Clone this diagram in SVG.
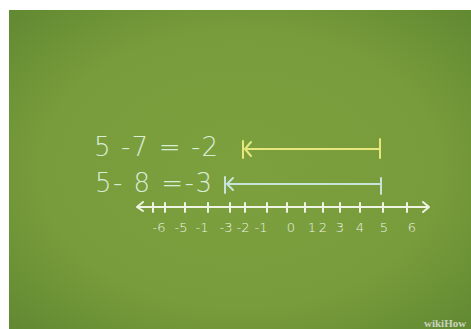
<svg xmlns="http://www.w3.org/2000/svg" width="471" height="329" viewBox="0 0 471 329">
<defs>
<radialGradient id="bg" cx="0.5" cy="0.5" r="0.72">
<stop offset="0" stop-color="#7ca03e"/>
<stop offset="0.6" stop-color="#789c3b"/>
<stop offset="1" stop-color="#608832"/>
</radialGradient>
<style>
.eq{font-family:"DejaVu Sans","Liberation Sans",sans-serif;font-weight:200;font-size:26px;fill:#d9ecd6}
.lab{font-family:"DejaVu Sans","Liberation Sans",sans-serif;font-weight:200;font-size:13px;fill:#eef3e4;text-anchor:middle}
.nl{stroke:#eef3e4;stroke-width:2;fill:none;stroke-linecap:round;stroke-linejoin:round}
.y{stroke:#e6e77c;stroke-width:2;fill:none;stroke-linecap:round;stroke-linejoin:round}
.b{stroke:#c8e4d8;stroke-width:2;fill:none;stroke-linecap:round;stroke-linejoin:round}
</style>
</defs>
<rect width="471" height="329" fill="#ffffff"/>
<rect x="9" y="10" width="462" height="319" fill="url(#bg)"/>
<g id="eq1"><text class="eq" x="94" y="156" textLength="124" lengthAdjust="spacing">5 -7 = -2</text></g>
<g id="eq2"><text class="eq" x="95" y="192" textLength="117" lengthAdjust="spacing">5- 8 =-3</text></g>
<g id="yellow-arrow">
<path class="y" d="M243 141 V158 M251 142 L245 149 L251 156 M245 149 H380 M380 139 V158"/>
</g>
<g id="blue-arrow">
<path class="b" d="M225 177 V193 M233 178 L227 184 L233 190 M227 184 H381 M381 178 V194"/>
</g>
<g id="number-line">
<path class="nl" d="M137 207 H429 M143 202 L137 207 L143 211 M423 202 L429 207 L423 212"/>
<path class="nl" d="M153 203 V212 M165 203 V212 M185 203 V212 M208 203 V212 M230 203 V212 M245 203 V212 M267 203 V212 M287 203 V212 M305 203 V212 M323 203 V212 M340 203 V212 M360 203 V212 M383 203 V212 M407 203 V212"/>
<text class="lab" x="159" y="232">-6</text>
<text class="lab" x="181" y="232">-5</text>
<text class="lab" x="202" y="232">-1</text>
<text class="lab" x="226" y="232">-3</text>
<text class="lab" x="243" y="232">-2</text>
<text class="lab" x="261" y="232">-1</text>
<text class="lab" x="291" y="232">0</text>
<text class="lab" x="312" y="232">1</text>
<text class="lab" x="323" y="232">2</text>
<text class="lab" x="340" y="232">3</text>
<text class="lab" x="360" y="232">4</text>
<text class="lab" x="384" y="232">5</text>
<text class="lab" x="412" y="232">6</text>
</g>
<text x="424" y="327" font-family="Liberation Serif,serif" font-weight="bold" font-size="11" fill="#c9d3bf">wikiHow</text>
</svg>
